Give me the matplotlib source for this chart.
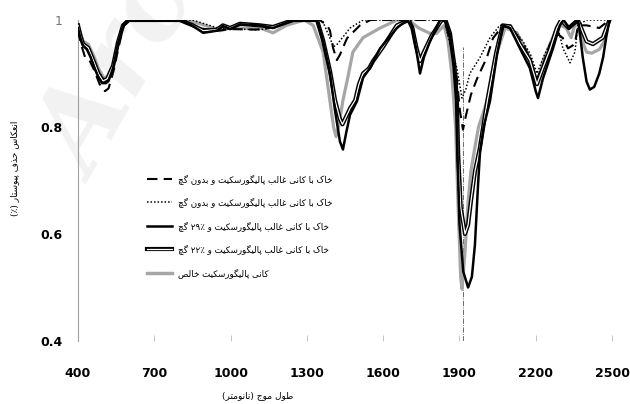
import matplotlib
matplotlib.use('Agg')
import matplotlib.pyplot as plt
from matplotlib.legend_handler import HandlerTuple
from matplotlib.lines import Line2D

# wavelengths (nm) and continuum-removed reflectance
wl_dash = [400, 415, 428, 445, 465, 485, 506, 520, 540, 560, 580, 600, 800, 870, 950, 1000, 1100, 1150,
           1250, 1350, 1380, 1391, 1403, 1418, 1430, 1458, 1509, 1550, 1830, 1850, 1875, 1890, 1902,
           1914, 1925, 1945, 1969, 2008, 2032, 2071, 2100, 2150, 2180, 2205, 2228, 2256, 2287, 2307,
           2327, 2354, 2366, 2400, 2450, 2490]
r_dash = [0.98, 0.95, 0.93, 0.925, 0.905, 0.88, 0.867, 0.872, 0.905, 0.95, 0.99, 1.0, 1.0, 0.985, 0.98,
          0.983, 0.982, 0.985, 1.0, 1.0, 0.99, 0.98, 0.948, 0.925, 0.935, 0.966, 0.99, 1.0, 1.0, 0.985,
          0.936, 0.89, 0.83, 0.795, 0.82, 0.86, 0.89, 0.93, 0.966, 0.99, 0.99, 0.955, 0.925, 0.89, 0.915,
          0.955, 0.974, 0.966, 0.947, 0.955, 0.99, 0.99, 0.985, 1.0]

wl_dot = [400, 420, 445, 480, 500, 520, 540, 560, 580, 600, 850, 950, 1000, 1115, 1160, 1250, 1360,
          1391, 1405, 1420, 1470, 1521, 1840, 1863, 1890, 1910, 1925, 1941, 1981, 2020, 2059, 2100,
          2150, 2180, 2205, 2230, 2260, 2290, 2307, 2335, 2354, 2366, 2400, 2490]
r_dot = [0.985, 0.955, 0.945, 0.905, 0.89, 0.89, 0.915, 0.955, 0.99, 1.0, 1.0, 0.985, 0.983, 0.982,
         0.985, 1.0, 1.0, 0.966, 0.95, 0.955, 0.985, 1.0, 1.0, 0.955, 0.91, 0.854, 0.87, 0.9, 0.93,
         0.967, 0.99, 0.99, 0.96, 0.935, 0.9, 0.93, 0.96, 0.98, 0.947, 0.92, 0.94, 0.99, 1.0, 1.0]

wl_g29 = [400, 410, 420, 435, 450, 465, 480, 495, 510, 520, 538, 557, 577, 600, 800, 852, 892, 920,
          946, 970, 998, 1037, 1116, 1167, 1246, 1340, 1364, 1391, 1411, 1430, 1442, 1455, 1470, 1497,
          1521, 1548, 1588, 1654, 1694, 1712, 1730, 1745, 1760, 1784, 1824, 1845, 1863, 1880, 1890,
          1893, 1900, 1915, 1934, 1949, 1961, 1973, 1981, 1995, 2020, 2048, 2071, 2099, 2138, 2177,
          2200, 2209, 2228, 2256, 2268, 2295, 2310, 2330, 2366, 2370, 2385, 2400, 2413, 2430, 2450,
          2465, 2478, 2490]
r_g29 = [0.985, 0.965, 0.952, 0.945, 0.93, 0.91, 0.893, 0.882, 0.882, 0.886, 0.91, 0.955, 0.99, 1.0,
         1.0, 0.989, 0.976, 0.978, 0.98, 0.989, 0.983, 0.992, 0.99, 0.985, 1.0, 1.0, 0.96, 0.9, 0.83,
         0.773, 0.758, 0.79, 0.823, 0.848, 0.892, 0.91, 0.947, 0.985, 1.0, 0.99, 0.945, 0.9, 0.93, 0.96,
         1.0, 1.0, 0.973, 0.91, 0.848, 0.74, 0.62, 0.53, 0.5, 0.52, 0.58, 0.69, 0.754, 0.8, 0.848,
         0.936, 0.99, 0.985, 0.947, 0.91, 0.867, 0.854, 0.89, 0.93, 0.947, 0.99, 1.0, 0.985, 1.0, 0.99,
         0.93, 0.885, 0.87, 0.875, 0.9, 0.93, 0.97, 1.0]

wl_g22 = [400, 410, 420, 440, 460, 480, 498, 515, 538, 557, 577, 600, 800, 852, 892, 946, 970, 998,
          1037, 1116, 1167, 1246, 1340, 1364, 1391, 1411, 1430, 1440, 1455, 1470, 1490, 1505, 1521,
          1545, 1560, 1600, 1654, 1700, 1715, 1730, 1745, 1760, 1790, 1830, 1845, 1863, 1880, 1890,
          1895, 1905, 1922, 1934, 1945, 1961, 1980, 2010, 2045, 2070, 2100, 2138, 2177, 2205, 2228,
          2256, 2283, 2300, 2330, 2366, 2400, 2425, 2464, 2490]
r_g22 = [0.99, 0.97, 0.955, 0.948, 0.925, 0.9, 0.886, 0.89, 0.915, 0.958, 0.99, 1.0, 1.0, 0.99, 0.98,
         0.982, 0.99, 0.985, 0.993, 0.99, 0.987, 1.0, 1.0, 0.962, 0.905, 0.85, 0.815, 0.805, 0.82,
         0.835, 0.85, 0.88, 0.9, 0.91, 0.923, 0.95, 0.99, 1.0, 0.985, 0.95, 0.923, 0.94, 0.97, 1.0,
         1.0, 0.975, 0.915, 0.85, 0.75, 0.65, 0.6, 0.617, 0.66, 0.717, 0.76, 0.85, 0.94, 0.99, 0.988,
         0.955, 0.925, 0.88, 0.91, 0.945, 0.985, 1.0, 0.985, 1.0, 0.96, 0.955, 0.967, 1.0]

wl_paly = [400, 410, 420, 440, 460, 480, 500, 515, 538, 557, 577, 600, 830, 900, 958, 998, 1116, 1167,
           1220, 1290, 1325, 1364, 1391, 1405, 1415, 1425, 1442, 1460, 1481, 1521, 1588, 1654, 1700,
           1740, 1784, 1810, 1840, 1855, 1870, 1885, 1895, 1905, 1910, 1922, 1934, 1945, 1958, 1975,
           2010, 2048, 2080, 2110, 2126, 2177, 2205, 2228, 2256, 2283, 2300, 2320, 2339, 2360, 2380,
           2400, 2420, 2450, 2470, 2490]
r_paly = [0.99, 0.975, 0.96, 0.955, 0.935, 0.91, 0.893, 0.893, 0.915, 0.955, 0.99, 1.0, 1.0, 0.99,
          0.98, 0.985, 0.985, 0.976, 0.99, 1.0, 0.99, 0.94, 0.848, 0.8, 0.782, 0.8, 0.85, 0.89, 0.94,
          0.967, 0.985, 1.0, 1.0, 0.985, 0.975, 0.975, 0.99, 0.96, 0.9, 0.8, 0.65, 0.52, 0.497, 0.567,
          0.66, 0.717, 0.754, 0.8, 0.85, 0.94, 0.985, 0.98, 0.976, 0.93, 0.88, 0.923, 0.955, 0.985,
          0.99, 0.985, 0.967, 1.0, 0.965, 0.94, 0.938, 0.945, 0.96, 1.0]

x_ticks = [400, 700, 1000, 1300, 1600, 1900, 2200, 2500]
y_ticks = [0.4, 0.6, 0.8, 1.0]
y_tick_labels = ['0.4', '0.6', '0.8', '1']
band_wl = 1915

labels = ['خاک با کانی غالب پالیگورسکیت و بدون گچ',
          'خاک با کانی غالب پالیگورسکیت و بدون گچ',
          'خاک با کانی غالب پالیگورسکیت و ۲۹٪ گچ',
          'خاک با کانی غالب پالیگورسکیت و ۲۲٪ گچ',
          'کانی پالیگورسکیت خالص']
x_title = 'طول موج (نانومتر)'
y_title = 'انعکاس حذف پیوستار (٪)'

# matplotlib has no arabic shaping, so do a small one by hand
# (isolated, final, initial, medial); None = letter does not join forward
FORMS = {
    'ا': ('\uFE8D', '\uFE8E', None, None),
    'ب': ('\uFE8F', '\uFE90', '\uFE91', '\uFE92'),
    'ت': ('\uFE95', '\uFE96', '\uFE97', '\uFE98'),
    'ج': ('\uFE9D', '\uFE9E', '\uFE9F', '\uFEA0'),
    'ح': ('\uFEA1', '\uFEA2', '\uFEA3', '\uFEA4'),
    'خ': ('\uFEA5', '\uFEA6', '\uFEA7', '\uFEA8'),
    'د': ('\uFEA9', '\uFEAA', None, None),
    'ذ': ('\uFEAB', '\uFEAC', None, None),
    'ر': ('\uFEAD', '\uFEAE', None, None),
    'س': ('\uFEB1', '\uFEB2', '\uFEB3', '\uFEB4'),
    'ص': ('\uFEB9', '\uFEBA', '\uFEBB', '\uFEBC'),
    'ط': ('\uFEC1', '\uFEC2', '\uFEC3', '\uFEC4'),
    'ع': ('\uFEC9', '\uFECA', '\uFECB', '\uFECC'),
    'غ': ('\uFECD', '\uFECE', '\uFECF', '\uFED0'),
    'ف': ('\uFED1', '\uFED2', '\uFED3', '\uFED4'),
    'ل': ('\uFEDD', '\uFEDE', '\uFEDF', '\uFEE0'),
    'م': ('\uFEE1', '\uFEE2', '\uFEE3', '\uFEE4'),
    'ن': ('\uFEE5', '\uFEE6', '\uFEE7', '\uFEE8'),
    'و': ('\uFEED', '\uFEEE', None, None),
    'پ': ('\uFB56', '\uFB57', '\uFB58', '\uFB59'),
    'چ': ('\uFB7A', '\uFB7B', '\uFB7C', '\uFB7D'),
    'ک': ('\uFB8E', '\uFB8F', '\uFB90', '\uFB91'),
    'گ': ('\uFB92', '\uFB93', '\uFB94', '\uFB95'),
    'ی': ('\uFBFC', '\uFBFD', '\uFBFE', '\uFBFF'),
}
LTR = set('0123456789۰۱۲۳۴۵۶۷۸۹٪%.')


def rtl(s):
    out = []
    for i, ch in enumerate(s):
        if ch not in FORMS:
            out.append(ch)
            continue
        prev = s[i - 1] if i > 0 else ''
        nxt = s[i + 1] if i + 1 < len(s) else ''
        jp = prev in FORMS and FORMS[prev][2] is not None
        jn = nxt in FORMS and FORMS[ch][2] is not None
        iso, fin, ini, med = FORMS[ch]
        out.append(med if jp and jn else fin if jp else ini if jn else iso)
    out = out[::-1]
    out = [{'(': ')', ')': '('}.get(c, c) for c in out]
    # numbers keep left-to-right order
    res, run = [], []
    for c in out:
        if c in LTR:
            run.append(c)
        else:
            res.extend(run[::-1])
            run = []
            res.append(c)
    res.extend(run[::-1])
    return ''.join(res)


plt.rcParams['font.family'] = ['DejaVu Sans']

fig = plt.figure(figsize=(6.3, 4.04), dpi=100)
W, H = 630.0, 404.0

# faint watermark behind everything
fig.text(22 / W, 1 - 172 / H, 'Arc', rotation=60, fontsize=80, color='#f2f2f2',
         family='DejaVu Serif', fontweight='bold', style='italic', zorder=-1)

ax = fig.add_axes([78 / W, 1 - 341 / H, (612 - 78) / W, (341 - 20) / H])
ax.patch.set_alpha(0)

ax.plot(wl_paly, r_paly, color='#a6a6a6', lw=2.3, solid_joinstyle='round', zorder=2)
ax.plot(wl_dash, r_dash, color='black', lw=1.5, ls=(0, (5, 3)), zorder=3)
ax.plot(wl_dot, r_dot, color='black', lw=1.1, ls=(0, (1, 1.3)), zorder=3)
ax.plot(wl_g22, r_g22, color='black', lw=3.0, zorder=4)
ax.plot(wl_g22, r_g22, color='white', lw=0.9, zorder=4)
ax.plot(wl_g29, r_g29, color='black', lw=1.8, zorder=5)
ax.plot([band_wl, band_wl], [0.4, 0.95], color='#555555', lw=0.6, ls='-.', zorder=1)

ax.set_xlim(400, 2500)
ax.set_ylim(0.4, 1.0)
for s in ['top', 'right', 'bottom']:
    ax.spines[s].set_visible(False)
ax.spines['left'].set_color('#a0a0a0')
ax.spines['left'].set_linewidth(0.8)

ax.set_xticks(x_ticks)
ax.set_xticklabels([str(t) for t in x_ticks])
ax.set_yticks(y_ticks)
ax.set_yticklabels(y_tick_labels)
ax.tick_params(axis='x', direction='in', length=4, width=0.6, color='#bbbbbb', pad=19,
               labelsize=9)
ax.tick_params(axis='y', length=0, pad=11, labelsize=9)
for t in ax.get_xticklabels() + ax.get_yticklabels():
    t.set_fontweight('bold')
ax.get_yticklabels()[-1].set_fontweight('normal')
ax.get_yticklabels()[-1].set_color('#777777')

fig.text(258 / W, 1 - 396 / H, rtl(x_title), ha='center', va='center', fontsize=6.5)
fig.text(15 / W, 1 - 168 / H, rtl(y_title), ha='center', va='center', fontsize=6.5, rotation=90)

h_dash = Line2D([], [], color='black', lw=1.5, ls=(0, (5, 3)))
h_dot = Line2D([], [], color='black', lw=1.1, ls=(0, (1, 1.3)))
h_29 = Line2D([], [], color='black', lw=1.8)
h_22 = (Line2D([], [], color='black', lw=3.0), Line2D([], [], color='white', lw=0.9))
h_pal = Line2D([], [], color='#a6a6a6', lw=2.5)
leg = fig.legend([h_dash, h_dot, h_29, h_22, h_pal], [rtl(l) for l in labels],
                 loc='upper left', bbox_to_anchor=(147 / W, 1 - 174 / H), frameon=False,
                 fontsize=6.3, handlelength=2.8, handletextpad=0.7, labelspacing=1.55,
                 borderpad=0, borderaxespad=0,
                 handler_map={tuple: HandlerTuple(ndivide=1)})

fig.savefig('out.png', dpi=100)
